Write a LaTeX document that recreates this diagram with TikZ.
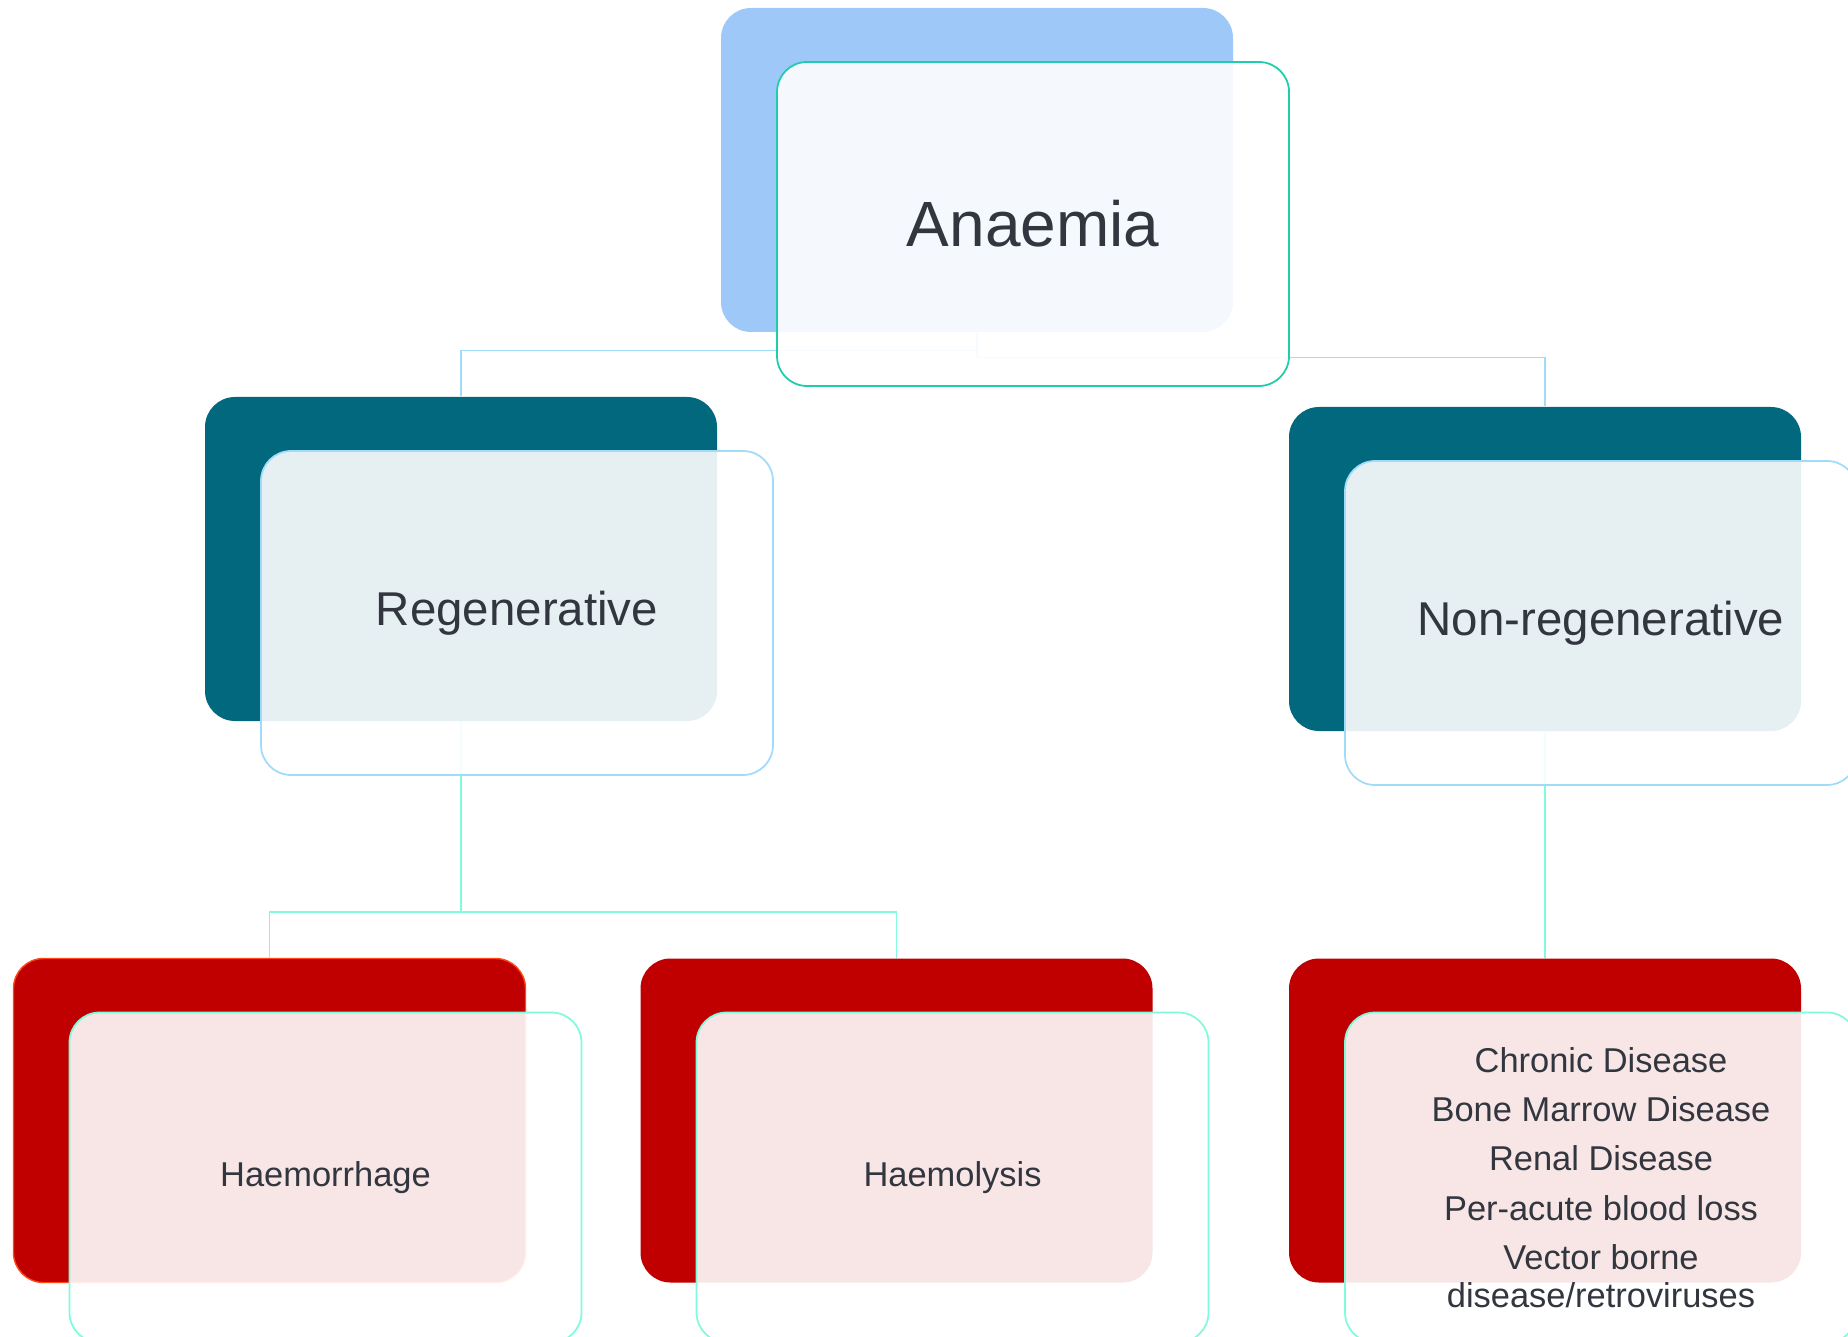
\documentclass[tikz,border=0pt]{standalone}
\usepackage{fontspec}
\setmainfont{Liberation Sans}
\usetikzlibrary{backgrounds}

\definecolor{skyback}{RGB}{157,200,248}
\definecolor{tealback}{RGB}{2,104,125}
\definecolor{redback}{RGB}{192,0,0}
\definecolor{inktext}{RGB}{50,54,63}
\definecolor{topedge}{RGB}{30,205,170}
\definecolor{midedge}{RGB}{160,220,250}
\definecolor{lowedge}{RGB}{130,250,220}
\definecolor{redrim}{RGB}{255,70,20}

\tikzset{
  backbox/.style={rectangle, rounded corners=0.3cm, minimum width=5.12cm,
    minimum height=3.24cm, inner sep=0pt},
  frontbox/.style={backbox, fill=white, fill opacity=0.9, text opacity=1,
    line width=0.5pt, text=inktext, align=center},
  lowbox/.style={frontbox, draw=lowedge, minimum height=3.30cm},
  link/.style={line width=0.45pt}
}

\begin{document}
\begin{tikzpicture}
        \useasboundingbox (0,0) rectangle (18.48,-13.37);
        % top level
        \node[backbox, fill=skyback] (anaemia) at (9.77,-1.70) {};
        \node[frontbox, draw=topedge, font=\fontsize{18.2}{22}\selectfont] (anaemiaT)
            at ([shift={(0.56,-0.54)}]anaemia.center) {Anaemia};
        % second level
        \node[backbox, fill=tealback] (regen) at (4.61,-5.59) {};
        \node[frontbox, draw=midedge, font=\fontsize{13.5}{16}\selectfont] (regenT)
            at ([shift={(0.56,-0.54)}]regen.center) {Regenerative};
        \node[backbox, fill=tealback] (nonregen) at (15.45,-5.69) {};
        \node[frontbox, draw=midedge, font=\fontsize{13.5}{16}\selectfont] (nonregenT)
            at ([shift={(0.56,-0.54)}]nonregen.center) {Non-regenerative};
        % third level
        \node[backbox, fill=redback, draw=redrim, line width=0.4pt] (haemorrhage) at (2.695,-11.205) {};
        \node[lowbox, font=\fontsize{9.8}{11.8}\selectfont] (haemorrhageT)
            at ([shift={(0.56,-0.57)}]haemorrhage.center) {Haemorrhage};
        \node[backbox, fill=redback] (haemolysis) at (8.965,-11.205) {};
        \node[lowbox, font=\fontsize{9.8}{11.8}\selectfont] (haemolysisT)
            at ([shift={(0.56,-0.57)}]haemolysis.center) {Haemolysis};
        \node[backbox, fill=redback] (causes) at (15.45,-11.205) {};
        \node[lowbox, font=\fontsize{9.8}{10.8}\selectfont] (causesT)
            at ([shift={(0.56,-0.57)}]causes.center)
            {Chronic Disease\\[3.2pt] Bone Marrow Disease\\[3.2pt] Renal Disease\\[3.2pt]
             Per-acute blood loss\\[3.2pt] Vector borne\\ disease/retroviruses};
        % connectors
        \begin{scope}[on background layer]
            \draw[link, midedge] (anaemia.south) -- ++(0,-0.18) -| (regen.north);
            \draw[link, midedge] (anaemia.south) -- ++(0,-0.25) -| (nonregen.north);
            \draw[link, lowedge] (regen.south) -- ++(0,-1.90) -| (haemorrhage.north);
            \draw[link, lowedge] (regen.south) -- ++(0,-1.90) -| (haemolysis.north);
            \draw[link, lowedge] (nonregen.south) -- (causes.north);
        \end{scope}
    \end{tikzpicture}
\end{document}
